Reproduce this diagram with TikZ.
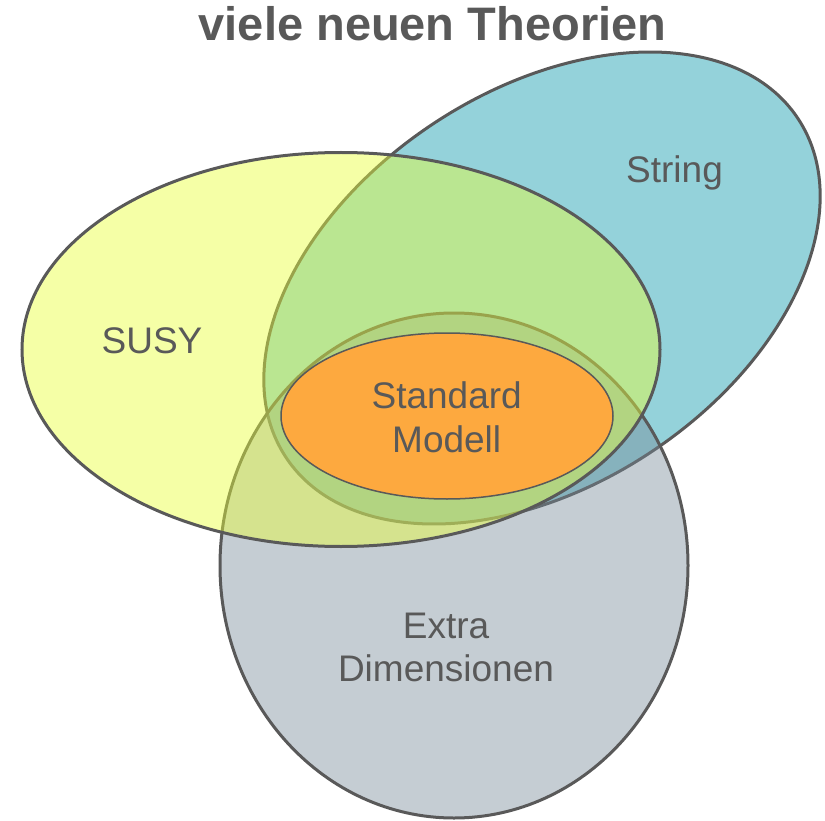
\documentclass[tikz,border=0pt]{standalone}
\usepackage{fontspec}
\setmainfont{Liberation Sans}
\definecolor{bord}{HTML}{595959}
\definecolor{tealf}{RGB}{148,210,218}
\definecolor{grayf}{RGB}{117,136,150}
\definecolor{yelf}{RGB}{233,255,58}
\definecolor{orf}{RGB}{253,169,63}
\begin{document}
\begin{tikzpicture}[x=1pt,y=-1pt,
  setline/.style={draw=bord,line width=3pt},
  lbl/.style={text=bord,font=\fontsize{37}{44}\selectfont,anchor=base,inner sep=0pt}]
\useasboundingbox (0,0) rectangle (825,821);
% String (teal, rotated)
\draw[setline,fill=tealf,rotate around={33.5:(542,288)}] (542,288) ellipse [x radius=307pt,y radius=197pt];
% Extra Dimensionen (gray)
\draw[setline,fill=grayf,fill opacity=0.42] (454,565.5) ellipse [x radius=234pt,y radius=252.5pt];
% SUSY (yellow)
\draw[setline,fill=yelf,fill opacity=0.45] (341,349.5) ellipse [x radius=319pt,y radius=197pt];
% Standard Modell (orange)
\draw[draw=bord,line width=1.5pt,fill=orf] (447,416) ellipse [x radius=166pt,y radius=83pt];
% labels
\node[text=bord,font=\bfseries\fontsize{47}{50}\selectfont,anchor=base,inner sep=0pt] (title) at (432.5,41) {viele neuen Theorien};
\node[lbl] (string) at (674.5,183) {String};
\node[lbl] (susy) at (152,353) {SUSY};
\node[lbl] (sm1) at (446.7,408.3) {Standard};
\node[lbl] (sm2) at (446.7,452) {Modell};
\node[lbl] (ed1) at (446,638) {Extra};
\node[lbl] (ed2) at (446,681.6) {Dimensionen};
\end{tikzpicture}
\end{document}
